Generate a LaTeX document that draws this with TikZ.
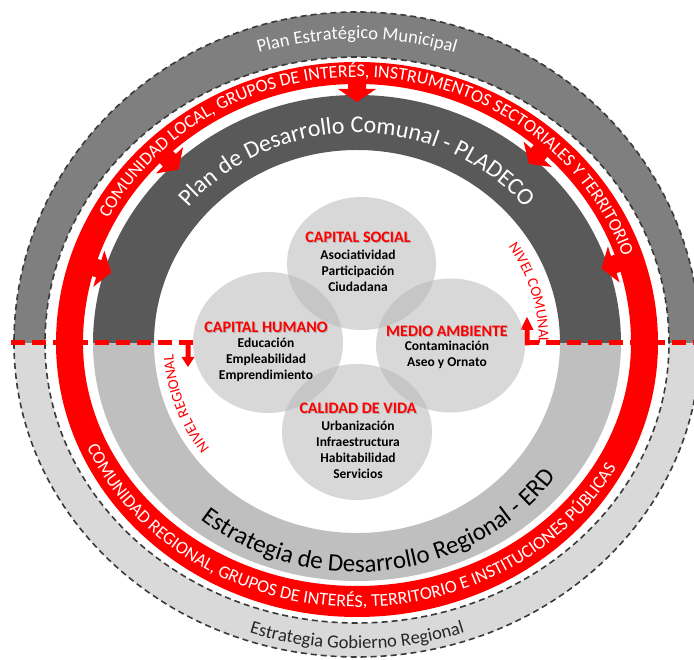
\documentclass[tikz,border=0pt]{standalone}
\usepackage{fontspec}
\setmainfont{Carlito}
\usetikzlibrary{decorations.text,shapes.geometric}
\definecolor{ringtop}{HTML}{7F7F7F}
\definecolor{ringbot}{HTML}{D9D9D9}
\definecolor{darkband}{HTML}{595959}
\definecolor{lightband}{HTML}{BFBFBF}
\definecolor{ringline}{HTML}{3A3A3A}
\definecolor{redm}{HTML}{FF0000}
\definecolor{circfill}{RGB}{183,183,183}
\newcommand\ringarrow[1]{%
  \begin{scope}[shift={(#1:264pt and 248pt)}, rotate=#1]
    \fill[redm] (-7,0) -- (6,19) -- (6,9) -- (22,9) -- (22,-9) -- (6,-9) -- (6,-19) -- cycle;
  \end{scope}}
\begin{document}
\begin{tikzpicture}[x=1pt,y=1pt,
  ringborder/.style={draw=ringline, line width=1.6pt, dash pattern=on 6pt off 4pt},
  bubble/.style={ellipse, fill=circfill, fill opacity=0.53, draw=none, inner sep=0pt},
  ctitle/.style={text=redm, font=\bfseries\fontsize{16}{16}\selectfont, inner sep=0pt},
  cshadow/.style={text=black!30, font=\bfseries\fontsize{16}{16}\selectfont, inner sep=0pt},
  cbody/.style={align=center, font=\bfseries\fontsize{13.5}{16}\selectfont, inner sep=0pt, text=black},
  levelline/.style={draw=redm, line width=5pt, dash pattern=on 14pt off 7pt},
]
\useasboundingbox (0,0) rectangle (694,660);
\clip (0,0) rectangle (694,660);
\fill[white] (0,0) rectangle (694,660);
\coordinate (C) at (357,317);

\begin{scope}[shift={(C)}]
  % outer ring, bottom
  \fill[ringbot] (-343,0) arc[start angle=180,end angle=360,x radius=343pt,y radius=314pt]
     -- (312,0) arc[start angle=0,end angle=-180,x radius=312pt,y radius=280pt] -- cycle;
  \draw[ringborder] (-343,0) arc[start angle=180,end angle=360,x radius=343pt,y radius=314pt];
  \draw[ringborder] (-312,0) arc[start angle=180,end angle=360,x radius=312pt,y radius=280pt];
  % outer ring, top
  \fill[ringtop] (343,0) arc[start angle=0,end angle=180,x radius=343pt,y radius=331pt]
     -- (-312,0) arc[start angle=180,end angle=0,x radius=312pt,y radius=286pt] -- cycle;
  \draw[ringborder] (343,0) arc[start angle=0,end angle=180,x radius=343pt,y radius=331pt];
  \draw[ringborder] (312,0) arc[start angle=0,end angle=180,x radius=312pt,y radius=286pt];
  % red ring
  \fill[redm] (-301,0) arc[start angle=180,end angle=360,x radius=301pt,y radius=274pt]
     -- (274,0) arc[start angle=0,end angle=-180,x radius=274pt,y radius=243pt] -- cycle;
  \fill[redm] (301,-1) -- (301,0) arc[start angle=0,end angle=180,x radius=301pt,y radius=281pt]
     -- (-301,-1) -- (-274,-1) -- (-274,0) arc[start angle=180,end angle=0,x radius=274pt,y radius=259pt] -- (274,-1) -- cycle;
  % inner bands
  \fill[lightband] (-264,0) arc[start angle=180,end angle=360,x radius=264pt,y radius=238pt]
     -- (203,0) arc[start angle=0,end angle=-180,x radius=203pt,y radius=190pt] -- cycle;
  \fill[darkband] (264,0) arc[start angle=0,end angle=180,x radius=264pt,y radius=248pt]
     -- (-203,0) arc[start angle=180,end angle=0,x radius=203pt,y radius=193pt] -- cycle;
  % inward arrows
  \ringarrow{90}
  \ringarrow{134}
  \ringarrow{48}
  \ringarrow{163}
  \ringarrow{18}

  % ring texts
  \path[decorate, decoration={text along path, text align=center, text color=white,
      text={|\fontsize{18.5}{18.5}\selectfont|Plan Estratégico Municipal}}]
     (125:328pt and 304pt) arc[start angle=125,end angle=55,x radius=328pt,y radius=304pt];
  \path[decorate, decoration={text along path, text align=center, text color=black!85,
      text={|\fontsize{18.5}{18.5}\selectfont|Estrategia Gobierno Regional}}]
     (230:333pt and 306pt) arc[start angle=230,end angle=310,x radius=333pt,y radius=306pt];
  \path[decorate, decoration={text along path, text align=center, text color=white,
      text={|\fontsize{18}{18}\selectfont|COMUNIDAD LOCAL, GRUPOS DE INTERÉS, INSTRUMENTOS SECTORIALES Y TERRITORIO}}]
     (175:281pt and 266pt) arc[start angle=175,end angle=-4,x radius=281pt,y radius=266pt];
  \path[decorate, decoration={text along path, text align=center, text color=white,
      text={|\fontsize{18}{18}\selectfont|COMUNIDAD REGIONAL, GRUPOS DE INTERÉS, TERRITORIO E INSTITUCIONES PÚBLICAS}}]
     (185:294pt and 264pt) arc[start angle=185,end angle=350,x radius=294pt,y radius=264pt];
  \path[decorate, decoration={text along path, text align=center, text color=white,
      text={|\fontsize{24}{24}\selectfont|Plan de Desarrollo Comunal - PLADECO}}]
     (175:220pt and 210pt) arc[start angle=175,end angle=5,x radius=220pt,y radius=210pt];
  \path[decorate, decoration={text along path, text align=center, text color=black,
      text={|\fontsize{25}{25}\selectfont|Estrategia de Desarrollo Regional - ERD}}]
     (203:245pt and 229pt) arc[start angle=203,end angle=352,x radius=245pt,y radius=229pt];
  \path[decorate, decoration={text along path, text align=center, text color=redm,
      text={|\fontsize{15}{15}\selectfont|NIVEL COMUNAL}}]
     (50:182pt and 174pt) arc[start angle=50,end angle=-17,x radius=182pt,y radius=174pt];
  \path[decorate, decoration={text along path, text align=center, text color=redm,
      text={|\fontsize{15}{15}\selectfont|NIVEL REGIONAL}}]
     (235:184pt and 176pt) arc[start angle=235,end angle=165,x radius=184pt,y radius=176pt];
\end{scope}

% level dividing line
\coordinate (lvlL0) at (193,317);
\coordinate (lvlL1) at (9,317);
\coordinate (lvlR0) at (524.5,317);
\coordinate (lvlR1) at (700,317);
\draw[levelline] (lvlL0) -- (lvlL1);
\draw[levelline] (lvlR0) -- (lvlR1);
\fill[redm] (185.5,319.5) -- (190.5,319.5) -- (190.5,303) -- (194.5,303) -- (188,293) -- (181.5,303) -- (185.5,303) -- cycle;
\fill[redm] (524.5,314.5) -- (529.5,314.5) -- (529.5,330) -- (533.5,330) -- (527,343) -- (520.5,330) -- (524.5,330) -- cycle;

% bubbles
\node[bubble, minimum width=149pt, minimum height=133pt] (csoc) at (361.5,396.5) {};
\node[bubble, minimum width=150pt, minimum height=141pt] (chum) at (268,317.5) {};
\node[bubble, minimum width=149pt, minimum height=134pt] (camb) at (450.5,314.5) {};
\node[bubble, minimum width=150pt, minimum height=136pt] (ccal) at (357,228) {};

\node[cshadow] (tsocs) at (359,422) {CAPITAL SOCIAL};
\node[ctitle] (tsoc) at (358,423) {CAPITAL SOCIAL};
\node[cbody] (bsoc) at (358,389) {Asociatividad\\Participación\\Ciudadana};

\node[cshadow] (thums) at (267,332) {CAPITAL HUMANO};
\node[ctitle] (thum) at (266,333) {CAPITAL HUMANO};
\node[cbody] (bhum) at (266,300) {Educación\\Empleabilidad\\Emprendimiento};

\node[cshadow] (tambs) at (448,328) {MEDIO AMBIENTE};
\node[ctitle] (tamb) at (447,329) {MEDIO AMBIENTE};
\node[cbody] (bamb) at (447,305) {Contaminación\\Aseo y Ornato};

\node[cshadow] (tcals) at (359,251) {CALIDAD DE VIDA};
\node[ctitle] (tcal) at (358,252) {CALIDAD DE VIDA};
\node[cbody] (bcal) at (358,210.5) {Urbanización\\Infraestructura\\Habitabilidad\\Servicios};
\end{tikzpicture}
\end{document}
